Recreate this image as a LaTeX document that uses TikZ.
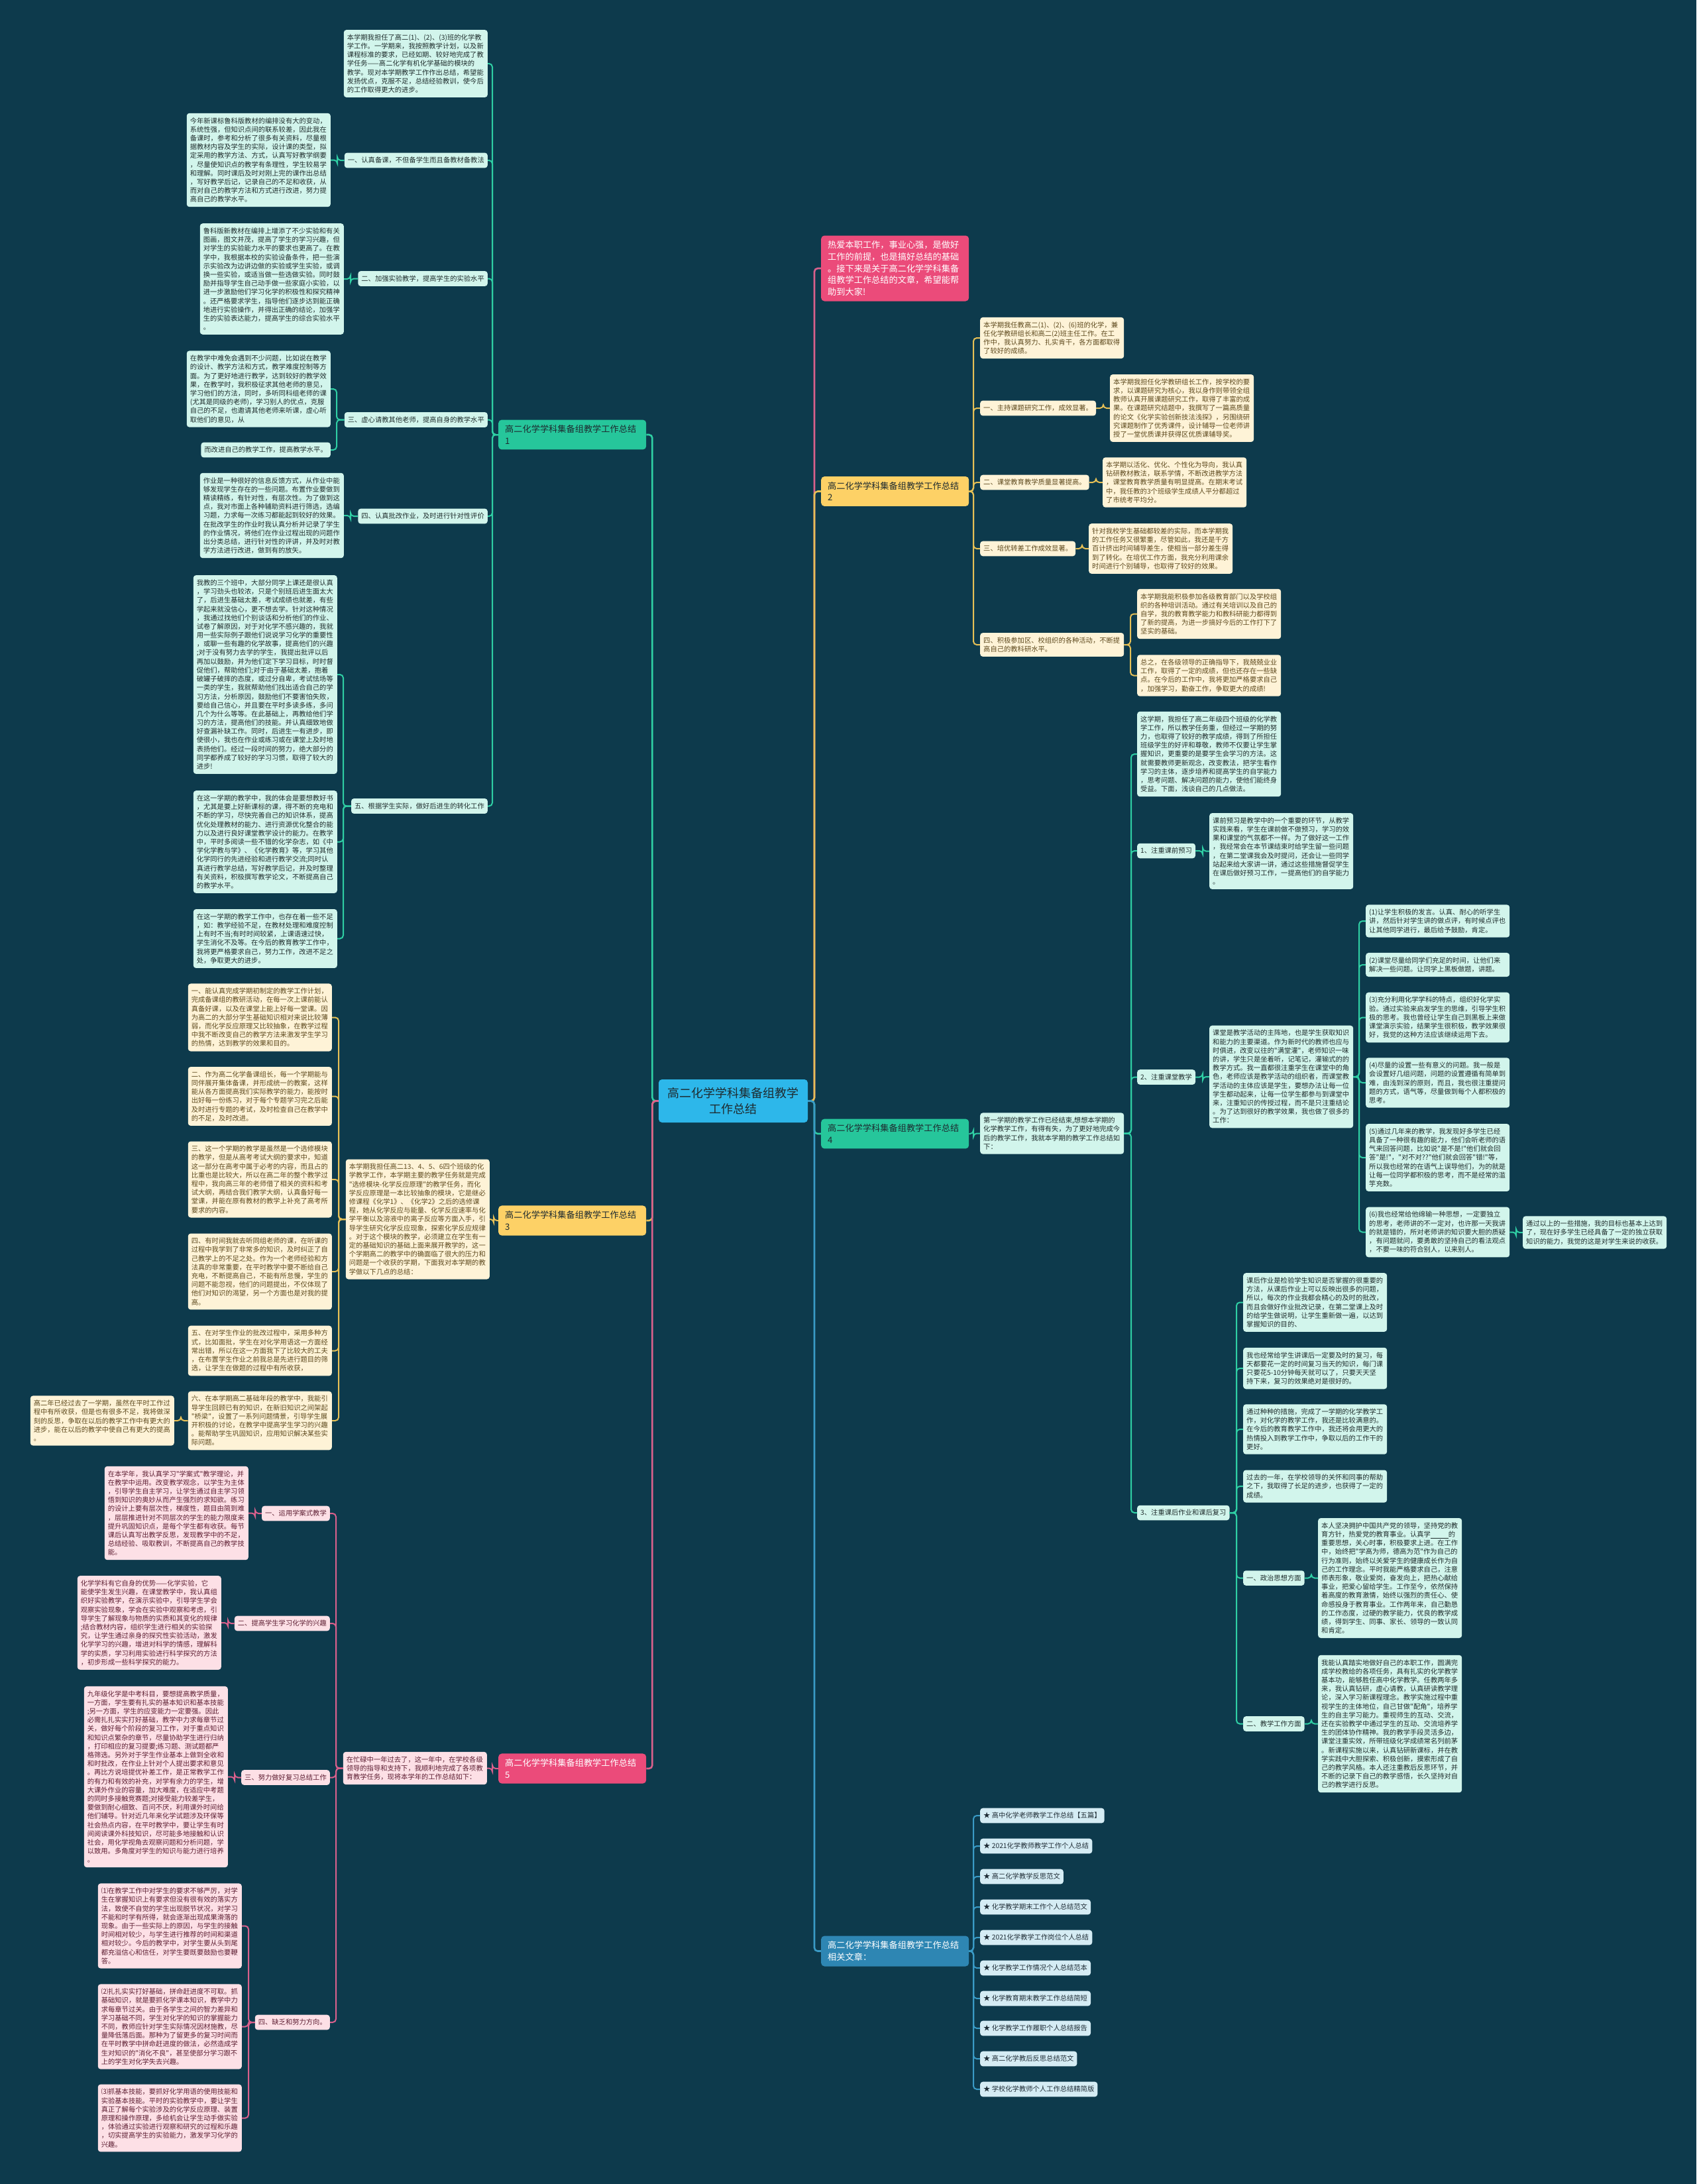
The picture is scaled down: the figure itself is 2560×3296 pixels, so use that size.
\documentclass[tikz,border=0pt]{standalone}
\usepackage{fontspec}
\newfontfamily\cjk{Noto Sans CJK SC}
\definecolor{bgc}{HTML}{0D3A4C}
\definecolor{gfill}{HTML}{26C69B}
\definecolor{gl}{HTML}{2FCFA4}
\definecolor{mintc}{HTML}{D2F5EC}
\definecolor{mtext}{HTML}{1F2D2D}
\definecolor{yfill}{HTML}{FDD166}
\definecolor{yl}{HTML}{E6C056}
\definecolor{creamc}{HTML}{FEF3D7}
\definecolor{ytext}{HTML}{5E4A1E}
\definecolor{pfill}{HTML}{EB4B7A}
\definecolor{pl}{HTML}{D9608C}
\definecolor{rosec}{HTML}{FDE0E6}
\definecolor{ptext}{HTML}{5E1F33}
\definecolor{centc}{HTML}{2DB7EA}
\definecolor{rfill}{HTML}{2E86B3}
\definecolor{bl}{HTML}{3A9BC6}
\definecolor{skyc}{HTML}{D5ECF4}
\definecolor{btext}{HTML}{1F2D36}
\definecolor{dtext}{HTML}{1E2B30}
\tikzset{
  leafbase/.style={rounded corners=4pt, inner xsep=5pt, inner ysep=6.5pt, align=left, font=\cjk\fontsize{10.3}{13.2}\selectfont},
  tw/.style={text width=207pt},
  gleaf/.style={leafbase, fill=mintc, text=mtext},
  yleaf/.style={leafbase, fill=creamc, text=ytext},
  pleaf/.style={leafbase, fill=rosec, text=ptext},
  bleaf/.style={leafbase, fill=skyc, text=btext},
  branchbox/.style={rounded corners=5pt, inner xsep=10pt, inner ysep=8pt, align=left, text width=203pt, font=\cjk\fontsize{13.2}{17.7}\selectfont, anchor=west},
  centerbox/.style={rounded corners=5pt, fill=centc, text=dtext, minimum width=225pt, minimum height=65pt, align=center, font=\cjk\fontsize{18}{24}\selectfont},
  conn/.style={line width=2pt, rounded corners=5pt},
  gline/.style={conn, draw=gl},
  yline/.style={conn, draw=yl},
  pline/.style={conn, draw=pl},
  bline/.style={conn, draw=bl},
  mainline/.style={line width=2.6pt}
}
\begin{document}
\begin{tikzpicture}[x=1pt,y=-1pt]
\fill[bgc] (0,0) rectangle (2560,3296);
\useasboundingbox (0,0) rectangle (2560,3296);

% ---------- centre and main branches ----------
\node[centerbox] (root) at (1106.5,1661.5) {高二化学学科集备组教学\\工作总结};
\node[branchbox, fill=gfill, text=dtext] (b1) at (752,656) {高二化学学科集备组教学工作总结\\1};
\node[branchbox, fill=yfill, text=dtext] (b3) at (752,1842) {高二化学学科集备组教学工作总结\\3};
\node[branchbox, fill=pfill, text=white] (b5) at (752,2669) {高二化学学科集备组教学工作总结\\5};
\node[branchbox, fill=pfill, text=white] (intro) at (1239,405) {热爱本职工作，事业心强，是做好\\工作的前提，也是搞好总结的基础\\。接下来是关于高二化学学科集备\\组教学工作总结的文章，希望能帮\\助到大家!};
\node[branchbox, fill=yfill, text=dtext] (b2) at (1239,741.5) {高二化学学科集备组教学工作总结\\2};
\node[branchbox, fill=gfill, text=dtext] (b4) at (1239,1711) {高二化学学科集备组教学工作总结\\4};
\node[branchbox, fill=rfill, text=white] (rel) at (1239,2944.5) {高二化学学科集备组教学工作总结\\相关文章：};

% ---------- branch 1 ----------
\node[gleaf, tw, anchor=east] (l1a) at (736,96) {本学期我担任了高二(1)、(2)、(3)班的化学教\\学工作。一学期来，我按照教学计划，以及新\\课程标准的要求，已经如期、较好地完成了教\\学任务——高二化学有机化学基础的模块的\\教学。现对本学期教学工作作出总结，希望能\\发扬优点，克服不足，总结经验教训，使今后\\的工作取得更大的进步。};
\node[gleaf, anchor=east] (s1) at (736,242) {一、认真备课，不但备学生而且备教材备教法};
\node[gleaf, tw, anchor=east] (s1l) at (499,241.5) {今年新课标鲁科版教材的编排没有大的变动，\\系统性强，但知识点间的联系较差，因此我在\\备课时，参考和分析了很多有关资料，尽量根\\据教材内容及学生的实际，设计课的类型，拟\\定采用的教学方法、方式，认真写好教学纲要\\，尽量使知识点的教学有条理性，学生较易学\\和理解。同时课后及时对刚上完的课作出总结\\，写好教学后记，记录自己的不足和收获，从\\而对自己的教学方法和方式进行改进，努力提\\高自己的教学水平。};
\node[gleaf, anchor=east] (s2) at (736,420.5) {二、加强实验教学，提高学生的实验水平};
\node[gleaf, tw, anchor=east] (s2l) at (519,421) {鲁科版新教材在编排上增添了不少实验和有关\\图画，图文并茂，提高了学生的学习兴趣，但\\对学生的实验能力水平的要求也更高了。在教\\学中，我根据本校的实验设备条件，把一些演\\示实验改为边讲边做的实验或学生实验，或调\\换一些实验，或适当做一些选做实验。同时鼓\\励并指导学生自己动手做一些家庭小实验，以\\进一步激励他们学习化学的积极性和探究精神\\。还严格要求学生，指导他们逐步达到能正确\\地进行实验操作，并得出正确的结论，加强学\\生的实验表达能力，提高学生的综合实验水平\\。};
\node[gleaf, anchor=east] (s3) at (736,633.5) {三、虚心请教其他老师，提高自身的教学水平};
\node[gleaf, tw, anchor=east] (s3a) at (499,587) {在教学中难免会遇到不少问题，比如说在教学\\的设计、教学方法和方式，教学难度控制等方\\面。为了更好地进行教学，达到较好的教学效\\果，在教学时，我积极征求其他老师的意见，\\学习他们的方法，同时，多听同科组老师的课\\(尤其是同级的老师)，学习别人的优点，克服\\自己的不足，也邀请其他老师来听课，虚心听\\取他们的意见，从};
\node[gleaf, anchor=east] (s3b) at (499,679) {而改进自己的教学工作，提高教学水平。};
\node[gleaf, anchor=east] (s4) at (736,779) {四、认真批改作业，及时进行针对性评价};
\node[gleaf, tw, anchor=east] (s4l) at (519,778) {作业是一种很好的信息反馈方式，从作业中能\\够发现学生存在的一些问题。布置作业要做到\\精读精练，有针对性，有层次性。为了做到这\\点，我对市面上各种辅助资料进行筛选，选编\\习题，力求每一次练习都能起到较好的效果。\\在批改学生的作业时我认真分析并记录了学生\\的作业情况，将他们在作业过程出现的问题作\\出分类总结，进行针对性的评讲，并及时对教\\学方法进行改进，做到有的放矢。};
\node[gleaf, anchor=east] (s5) at (736,1216.5) {五、根据学生实际，做好后进生的转化工作};
\node[gleaf, tw, anchor=east] (s5a) at (509,1018) {我教的三个班中，大部分同学上课还是很认真\\，学习劲头也较浓，只是个别班后进生面太大\\了，后进生基础太差，考试成绩也就差，有些\\学起来就没信心，更不想去学。针对这种情况\\，我通过找他们个别谈话和分析他们的作业、\\试卷了解原因，对于对化学不感兴趣的，我就\\用一些实际例子跟他们说说学习化学的重要性\\，或聊一些有趣的化学故事，提高他们的兴趣\\;对于没有努力去学的学生，我提出批评以后\\再加以鼓励，并为他们定下学习目标，时时督\\促他们，帮助他们;对于由于基础太差，抱着\\破罐子破摔的态度，或过分自卑，考试怯场等\\一类的学生，我就帮助他们找出适合自己的学\\习方法，分析原因，鼓励他们不要害怕失败，\\要给自己信心，并且要在平时多读多练，多问\\几个为什么等等。在此基础上，再教给他们学\\习的方法，提高他们的技能。并认真细致地做\\好查漏补缺工作。同时，后进生一有进步，即\\使很小，我也在作业或练习或在课堂上及时地\\表扬他们。经过一段时间的努力，绝大部分的\\同学都养成了较好的学习习惯，取得了较大的\\进步!};
\node[gleaf, tw, anchor=east] (s5b) at (509,1270.5) {在这一学期的教学中，我的体会是要想教好书\\，尤其是要上好新课标的课，得不断的充电和\\不断的学习，尽快完善自己的知识体系，提高\\优化处理教材的能力、进行资源优化整合的能\\力以及进行良好课堂教学设计的能力。在教学\\中，平时多阅读一些不错的化学杂志，如《中\\学化学教与学》、《化学教育》等，学习其他\\化学同行的先进经验和进行教学交流;同时认\\真进行教学总结，写好教学后记，并及时整理\\有关资料，积极撰写教学论文，不断提高自己\\的教学水平。};
\node[gleaf, tw, anchor=east] (s5c) at (509,1416.5) {在这一学期的教学工作中，也存在着一些不足\\，如：教学经验不足，在教材处理和难度控制\\上有时不当;有时时间较紧，上课语速过快，\\学生消化不及等。在今后的教育教学工作中，\\我将更严格要求自己，努力工作，改进不足之\\处，争取更大的进步。};

% ---------- branch 3 ----------
\node[yleaf, tw, anchor=east] (c3) at (739,1840) {本学期我担任高二13、4、5、6四个班级的化\\学教学工作，本学期主要的教学任务就是完成\\"选修模块-化学反应原理"的教学任务，而化\\学反应原理是一本比较抽象的模块，它是继必\\修课程《化学1》、《化学2》之后的选修课\\程，她从化学反应与能量、化学反应速率与化\\学平衡以及溶液中的离子反应等方面入手，引\\导学生研究化学反应现象，探索化学反应规律\\。对于这个模块的教学，必须建立在学生有一\\定的基础知识的基础上面来展开教学的，这一\\个学期高二的教学中的确面临了很大的压力和\\问题是一个收获的学期，下面我对本学期的教\\学做以下几点的总结：};
\node[yleaf, tw, anchor=east] (c3a) at (501,1535.5) {一、能认真完成学期初制定的教学工作计划，\\完成备课组的教研活动，在每一次上课前能认\\真备好课，以及在课堂上能上好每一堂课。因\\为高二的大部分学生基础知识相对来说比较薄\\弱，而化学反应原理又比较抽象，在教学过程\\中我不断改变自己的教学方法来激发学生学习\\的热情，达到教学的效果和目的。};
\node[yleaf, tw, anchor=east] (c3b) at (501,1654.5) {二、作为高二化学备课组长，每一个学期能与\\同伴展开集体备课，并形成统一的教案，这样\\能从各方面提高我们实际教学的能力，能按时\\出好每一份练习，对于每个专题学习完之后能\\及时进行专题的考试，及时检查自己在教学中\\的不足，及时改进。};
\node[yleaf, tw, anchor=east] (c3c) at (501,1780) {三、这一个学期的教学是虽然是一个选修模块\\的教学，但是从高考考试大纲的要求中，知道\\这一部分在高考中属于必考的内容，而且占的\\比重也是比较大，所以在高二年的整个教学过\\程中，我向高三年的老师借了相关的资料和考\\试大纲，再结合我们教学大纲，认真备好每一\\堂课，并能在原有教材的教学上补充了高考所\\要求的内容。};
\node[yleaf, tw, anchor=east] (c3d) at (501,1919) {四、有时间我就去听同组老师的课，在听课的\\过程中我学到了非常多的知识，及时纠正了自\\己教学上的不足之处。作为一个老师经验和方\\法真的非常重要，在平时教学中要不断给自己\\充电，不断提高自己，不能有所怠慢，学生的\\问题不能忽视，他们的问题提出，不仅体现了\\他们对知识的渴望，另一个方面也是对我的提\\高。};
\node[yleaf, tw, anchor=east] (c3e) at (501,2038.5) {五、在对学生作业的批改过程中，采用多种方\\式，比如面批，学生在对化学用语这一方面经\\常出错，所以在这一方面我下了比较大的工夫\\，在布置学生作业之前我总是先进行题目的筛\\选，让学生在做题的过程中有所收获，};
\node[yleaf, tw, anchor=east] (c3f) at (501,2144) {六、在本学期高二基础年段的教学中，我能引\\导学生回顾已有的知识，在新旧知识之间架起\\"桥梁"，设置了一系列问题情景，引导学生展\\开积极的讨论，在教学中提高学生学习的兴趣\\。能帮助学生巩固知识，应用知识解决某些实\\际问题。};
\node[yleaf, tw, anchor=east] (c3g) at (263,2144) {高二年已经过去了一学期，虽然在平时工作过\\程中有所收获，但是也有很多不足，我将做深\\刻的反思，争取在以后的教学工作中有更大的\\进步，能在以后的教学中使自己有更大的提高\\。};

% ---------- branch 5 ----------
\node[pleaf, tw, anchor=east] (c5) at (735,2668.5) {在忙碌中一年过去了，这一年中，在学校各级\\领导的指导和支持下，我顺利地完成了各项教\\育教学任务，现将本学年的工作总结如下：};
\node[pleaf, anchor=east] (t1) at (498,2284) {一、运用学案式教学};
\node[pleaf, anchor=east] (t2) at (498,2450) {二、提高学生学习化学的兴趣};
\node[pleaf, anchor=east] (t3) at (498,2682.5) {三、努力做好复习总结工作};
\node[pleaf, anchor=east] (t4) at (498,3052) {四、缺乏和努力方向。};
\node[pleaf, tw, anchor=east] (t1l) at (375,2283.5) {在本学年，我认真学习"学案式"教学理论，并\\在教学中运用。改变教学观念，以学生为主体\\，引导学生自主学习，让学生通过自主学习领\\悟到知识的奥妙从而产生强烈的求知欲。练习\\的设计上要有层次性，梯度性，题目由简到难\\，层层推进针对不同层次的学生的能力限度来\\提升巩固知识点，是每个学生都有收获。每节\\课后认真写出教学反思，发现教学中的不足，\\总结经验、吸取教训，不断提高自己的教学技\\能。};
\node[pleaf, tw, anchor=east] (t2l) at (334,2449) {化学学科有它自身的优势——化学实验，它\\能使学生发生兴趣，在课堂教学中，我认真组\\织好实验教学，在演示实验中，引导学生学会\\观察实验现象，学会在实验中观察和考虑，引\\导学生了解现象与物质的实质和其变化的规律\\;结合教材内容，组织学生进行相关的实验探\\究，让学生通过亲身的探究性实验活动，激发\\化学学习的兴趣，增进对科学的情感，理解科\\学的实质，学习利用实验进行科学探究的方法\\，初步形成一些科学探究的能力。};
\node[pleaf, tw, anchor=east] (t3l) at (344,2681.5) {九年级化学是中考科目，要想提高教学质量，\\一方面，学生要有扎实的基本知识和基本技能\\;另一方面，学生的应变能力一定要强。因此\\必需扎扎实实打好基础，教学中力求每章节过\\关，做好每个阶段的复习工作，对于重点知识\\和知识点繁杂的章节，尽量协助学生进行归纳\\，打印相应的复习提要;练习题、测试题都严\\格筛选。另外对于学生作业基本上做到全收和\\和时批改，在作业上针对个人提出要求和意见\\。再比方说培提优补差工作，是正常教学工作\\的有力和有效的补充，对学有余力的学生，增\\大课外作业的容量，加大难度，在适应中考题\\的同时多接触竞赛题;对接受能力较差学生，\\要做到耐心细致、百问不厌，利用课外时间给\\他们辅导。针对近几年来化学试题涉及环保等\\社会热点内容，在平时教学中，要让学生有时\\间阅读课外科技知识，尽可能多地接触和认识\\社会，用化学视角去观察问题和分析问题，学\\以致用。多角度对学生的知识与能力进行培养\\。};
\node[pleaf, tw, anchor=east] (t4a) at (365,2906.5) {⑴在教学工作中对学生的要求不够严厉，对学\\生在掌握知识上有要求但没有很有效的落实方\\法，致使不自觉的学生出现脱节状况，对学习\\不能和时学有所得，就会逐渐出现成果滑落的\\现象。由于一些实际上的原因，与学生的接触\\时间相对较少，与学生进行推荐的时间和渠道\\相对较少。今后的教学中，对学生要从头到尾\\都充溢信心和信任，对学生要既要鼓励也要鞭\\答。};
\node[pleaf, tw, anchor=east] (t4b) at (365,3058.5) {⑵扎扎实实打好基础，拼命赶进度不可取。抓\\基础知识，就是要抓化学课本知识，教学中力\\求每章节过关。由于各学生之间的智力差异和\\学习基础不同，学生对化学的知识的掌握能力\\不同，教师应针对学生实际情况因材施教，尽\\量降低落后面。那种为了留更多的复习时间而\\在平时教学中拼命赶进度的做法，必然造成学\\生对知识的"消化不良"，甚至使部分学习跟不\\上的学生对化学失去兴趣。};
\node[pleaf, tw, anchor=east] (t4c) at (365,3196.5) {⑶抓基本技能，要抓好化学用语的使用技能和\\实验基本技能。平时的实验教学中，要让学生\\真正了解每个实验涉及的化学反应原理、装置\\原理和操作原理，多给机会让学生动手做实验\\，体验通过实验进行观察和研究的过程和乐趣\\，切实提高学生的实验能力，激发学习化学的\\兴趣。};

% ---------- branch 2 ----------
\node[yleaf, tw, anchor=west] (c20) at (1479,510) {本学期我任教高二(1)、(2)、(6)班的化学，兼\\任化学教研组长和高二(2)班主任工作。在工\\作中，我认真努力、扎实肯干，各方面都取得\\了较好的成绩。};
\node[yleaf, anchor=west] (u1) at (1479,616) {一、主持课题研究工作，成效显著。};
\node[yleaf, tw, anchor=west] (u1l) at (1675,616) {本学期我担任化学教研组长工作，按学校的要\\求，以课题研究为核心，我以身作则带领全组\\教师认真开展课题研究工作，取得了丰富的成\\果。在课题研究结题中，我撰写了一篇高质量\\的论文《化学实验创新技法浅探》，另围绕研\\究课题制作了优秀课件，设计辅导一位老师讲\\授了一堂优质课并获得区优质课辅导奖。};
\node[yleaf, anchor=west] (u2) at (1479,728) {二、课堂教育教学质量显著提高。};
\node[yleaf, tw, anchor=west] (u2l) at (1664,728) {本学期以活化、优化、个性化为导向，我认真\\钻研教材教法，联系学情，不断改进教学方法\\，课堂教育教学质量有明显提高。在期末考试\\中，我任教的3个班级学生成绩人平分都超过\\了市统考平均分。};
\node[yleaf, anchor=west] (u3) at (1479,828) {三、培优转差工作成效显著。};
\node[yleaf, tw, anchor=west] (u3l) at (1643,828) {针对我校学生基础都较差的实际，而本学期我\\的工作任务又很繁重，尽管如此，我还是千方\\百计挤出时间辅导差生，使相当一部分差生得\\到了转化。在培优工作方面，我充分利用课余\\时间进行个别辅导，也取得了较好的效果。};
\node[yleaf, tw, anchor=west] (u4) at (1479,973) {四、积极参加区、校组织的各种活动，不断提\\高自己的教科研水平。};
\node[yleaf, tw, anchor=west] (u4a) at (1716,926.5) {本学期我能积极参加各级教育部门以及学校组\\织的各种培训活动。通过有关培训以及自己的\\自学，我的教育教学能力和教科研能力都得到\\了新的提高，为进一步搞好今后的工作打下了\\坚实的基础。};
\node[yleaf, tw, anchor=west] (u4b) at (1716,1019.5) {总之，在各级领导的正确指导下，我兢兢业业\\工作，取得了一定的成绩，但也还存在一些缺\\点。在今后的工作中，我将更加严格要求自己\\，加强学习，勤奋工作，争取更大的成绩!};

% ---------- branch 4 ----------
\node[gleaf, tw, anchor=west] (c4) at (1479,1710.5) {第一学期的教学工作已经结束,想想本学期的\\化学教学工作，有得有失，为了更好地完成今\\后的教学工作，我就本学期的教学工作总结如\\下：};
\node[gleaf, tw, anchor=west] (v1) at (1716,1138) {这学期，我担任了高二年级四个班级的化学教\\学工作，所以教学任务重，但经过一学期的努\\力，也取得了较好的教学成绩，得到了所担任\\班级学生的好评和尊敬，教师不仅要让学生掌\\握知识，更重要的是要学生会学习的方法。这\\就需要教师更新观念，改变教法，把学生看作\\学习的主体，逐步培养和提高学生的自学能力\\，思考问题、解决问题的能力，使他们能终身\\受益。下面，浅谈自己的几点做法。};
\node[gleaf, anchor=west] (v2) at (1716,1284) {1、注重课前预习};
\node[gleaf, tw, anchor=west] (v2l) at (1825,1284.5) {课前预习是教学中的一个重要的环节，从教学\\实践来看，学生在课前做不做预习，学习的效\\果和课堂的气氛都不一样。为了做好这一工作\\，我经常会在本节课结束时给学生留一些问题\\，在第二堂课我会及时提问，还会让一些同学\\站起来给大家讲一讲，通过这些措施督促学生\\在课后做好预习工作，一提高他们的自学能力\\。};
\node[gleaf, anchor=west] (v3) at (1716,1625.5) {2、注重课堂教学};
\node[gleaf, tw, anchor=west] (v3l) at (1825,1625) {课堂是教学活动的主阵地，也是学生获取知识\\和能力的主要渠道。作为新时代的教师也应与\\时俱进，改变以往的"满堂灌"，老师知识一味\\的讲，学生只是坐着听，记笔记，灌输式的的\\教学方式。我一直都很注重学生在课堂中的角\\色，老师应该是教学活动的组织者，而课堂教\\学活动的主体应该是学生，要想办法让每一位\\学生都动起来，让每一位学生都参与到课堂中\\来，注重知识的传授过程，而不是只注重结论\\。为了达到很好的教学效果，我也做了很多的\\工作：};
\node[gleaf, tw, anchor=west] (w1) at (2061,1390) {(1)让学生积极的发言。认真、耐心的听学生\\讲，然后针对学生讲的做点评，有时候点评也\\让其他同学进行，最后给予鼓励，肯定。};
\node[gleaf, tw, anchor=west] (w2) at (2061,1456) {(2)课堂尽量给同学们充足的时间，让他们来\\解决一些问题。让同学上黑板做题，讲题。};
\node[gleaf, tw, anchor=west] (w3) at (2061,1535.5) {(3)充分利用化学学科的特点，组织好化学实\\验。通过实验来启发学生的思维，引导学生积\\极的思考。我也曾经让学生自己到黑板上来做\\课堂演示实验，结果学生很积极，教学效果很\\好，我觉的这种方法应该继续运用下去。};
\node[gleaf, tw, anchor=west] (w4) at (2061,1634) {(4)尽量的设置一些有意义的问题。我一般是\\会设置好几组问题，问题的设置遵循有简单到\\难，由浅到深的原则，而且，我也很注重提问\\题的方式，语气等，尽量做到每个人都积极的\\思考。};
\node[gleaf, tw, anchor=west] (w5) at (2061,1747) {(5)通过几年来的教学，我发现好多学生已经\\具备了一种很有趣的能力，他们会听老师的语\\气来回答问题，比如说"是不是!"他们就会回\\答"是!"，"对不对??"他们就会回答"错!"等，\\所以我也经常的在语气上误导他们，为的就是\\让每一位同学都积极的思考，而不是经常的滥\\竽充数。};
\node[gleaf, tw, anchor=west] (w6) at (2061,1859.5) {(6)我也经常给他绵输一种思想，一定要独立\\的思考，老师讲的不一定对，也许那一天我讲\\的就是错的，所对老师讲的知识要大胆的质疑\\，有问题就问，要勇敢的坚持自己的看法观点\\，不要一味的符合别人，以来别人。};
\node[gleaf, tw, anchor=west] (w6c) at (2298,1860) {通过以上的一些措施，我的目标也基本上达到\\了，现在好多学生已经具备了一定的独立获取\\知识的能力，我觉的这是对学生来说的收获。};
\node[gleaf, anchor=west] (v4) at (1716,2283) {3、注重课后作业和课后复习};
\node[gleaf, tw, anchor=west] (x1) at (1876,1965.5) {课后作业是检验学生知识是否掌握的很重要的\\方法，从课后作业上可以反映出很多的问题，\\所以，每次的作业我都会精心的及时的批改，\\而且会做好作业批改记录，在第二堂课上及时\\的给学生做说明，让学生重新做一遍，以达到\\掌握知识的目的、};
\node[gleaf, tw, anchor=west] (x2) at (1876,2065) {我也经常给学生讲课后一定要及时的复习，每\\天都要花一定的时间复习当天的知识，每门课\\只要花5-10分钟每天就可以了，只要天天坚\\持下来，复习的效果绝对是很好的。};
\node[gleaf, tw, anchor=west] (x3) at (1876,2157) {通过种种的措施，完成了一学期的化学教学工\\作，对化学的教学工作，我还是比较满意的。\\在今后的教育教学工作中，我还将会用更大的\\热情投入到教学工作中，争取以后的工作干的\\更好。};
\node[gleaf, tw, anchor=west] (x4) at (1876,2243) {过去的一年，在学校领导的关怀和同事的帮助\\之下，我取得了长足的进步，也获得了一定的\\成绩。};
\node[gleaf, anchor=west] (x5) at (1876,2381.5) {一、政治思想方面};
\node[gleaf, tw, anchor=west] (x5l) at (1989,2381.5) {本人坚决拥护中国共产党的领导，坚持党的教\\育方针，热爱党的教育事业。认真学\underline{\hspace{2.6em}}的\\重要思想，关心时事，积极要求上进。在工作\\中，始终把"学高为师，德高为范"作为自己的\\行为准则，始终以关爱学生的健康成长作为自\\己的工作理念。平时我能严格要求自己，注意\\师表形象，敬业爱岗，奋发向上，把热心献给\\事业，把爱心留给学生。工作至今，依然保持\\着高度的教育激情，始终以强烈的责任心、使\\命感投身于教育事业。工作两年来，自己勤恳\\的工作态度，过硬的教学能力，优良的教学成\\绩，得到学生、同事、家长、领导的一致认同\\和肯定。};
\node[gleaf, anchor=west] (x6) at (1876,2601.5) {二、教学工作方面};
\node[gleaf, tw, anchor=west] (x6l) at (1989,2601.5) {我能认真踏实地做好自己的本职工作，圆满完\\成学校教给的各项任务，具有扎实的化学教学\\基本功，能够胜任高中化学教学。任教两年多\\来，我认真钻研，虚心请教，认真研读教学理\\论，深入学习新课程理念。教学实施过程中重\\视学生的主体地位，自己甘做"配角"，培养学\\生的自主学习能力。重视师生的互动、交流，\\还在实验教学中通过学生的互动、交流培养学\\生的团体协作精神。我的教学手段灵活多边，\\课堂注重实效，所带班级化学成绩常名列前茅\\。新课程实施以来，认真钻研新课标，并在教\\学实践中大胆探索、积极创新，摸索形成了自\\己的教学风格。本人还注重教后反思环节，并\\不断的记录下自己的教学感悟，长久坚持对自\\己的教学进行反思。};

% ---------- related ----------
\node[bleaf, anchor=west] (r1) at (1479,2740) {★ 高中化学老师教学工作总结【五篇】};
\node[bleaf, anchor=west] (r2) at (1479,2786) {★ 2021化学教师教学工作个人总结};
\node[bleaf, anchor=west] (r3) at (1479,2832) {★ 高二化学教学反思范文};
\node[bleaf, anchor=west] (r4) at (1479,2878) {★ 化学教学期末工作个人总结范文};
\node[bleaf, anchor=west] (r5) at (1479,2924) {★ 2021化学教学工作岗位个人总结};
\node[bleaf, anchor=west] (r6) at (1479,2970) {★ 化学教学工作情况个人总结范本};
\node[bleaf, anchor=west] (r7) at (1479,3016) {★ 化学教育期末教学工作总结简短};
\node[bleaf, anchor=west] (r8) at (1479,3061) {★ 化学教学工作履职个人总结报告};
\node[bleaf, anchor=west] (r9) at (1479,3107) {★ 高二化学教后反思总结范文};
\node[bleaf, anchor=west] (r10) at (1479,3153) {★ 学校化学教师个人工作总结精简版};

% ---------- connectors ----------
\draw[gline, mainline] (b1.east) -- ++(9,0) |- (root.west);
\draw[yline, mainline] (b3.east) -- ++(9,0) |- (root.west);
\draw[pline, mainline] (b5.east) -- ++(9,0) |- (root.west);
\draw[pline, mainline] (intro.west) -- ++(-10,0) |- (root.east);
\draw[yline, mainline] (b2.west) -- ++(-10,0) |- (root.east);
\draw[gline, mainline] (b4.west) -- ++(-10,0) |- (root.east);
\draw[bline, mainline] (rel.west) -- ++(-10,0) |- (root.east);
% branch 1
\foreach \n in {l1a,s1,s2,s3,s4,s5} \draw[gline] (\n.east) -- ++(7,0) |- (b1.west);
\draw[gline] (s1l.east) -- ++(10,0) |- (s1.west);
\draw[gline] (s2l.east) -- ++(10,0) |- (s2.west);
\draw[gline] (s3a.east) -- ++(9,0) |- (s3.west);
\draw[gline] (s3b.east) -- ++(9,0) |- (s3.west);
\draw[gline] (s4l.east) -- ++(10,0) |- (s4.west);
\foreach \n in {s5a,s5b,s5c} \draw[gline] (\n.east) -- ++(9,0) |- (s5.west);
% branch 3
\draw[yline] (c3.east) -- ++(6,0) |- (b3.west);
\foreach \n in {c3a,c3b,c3c,c3d,c3e,c3f} \draw[yline] (\n.east) -- ++(10,0) |- (c3.west);
\draw[yline] (c3g.east) -- ++(10,0) |- (c3f.west);
% branch 5
\draw[pline] (c5.east) -- ++(8,0) |- (b5.west);
\foreach \n in {t1,t2,t3,t4} \draw[pline] (\n.east) -- ++(9,0) |- (c5.west);
\draw[pline] (t1l.east) -- ++(10,0) |- (t1.west);
\draw[pline] (t2l.east) -- ++(10,0) |- (t2.west);
\draw[pline] (t3l.east) -- ++(10,0) |- (t3.west);
\foreach \n in {t4a,t4b,t4c} \draw[pline] (\n.east) -- ++(10,0) |- (t4.west);
% branch 2
\foreach \n in {c20,u1,u2,u3,u4} \draw[yline] (\n.west) -- ++(-10,0) |- (b2.east);
\draw[yline] (u1l.west) -- ++(-10,0) |- (u1.east);
\draw[yline] (u2l.west) -- ++(-10,0) |- (u2.east);
\draw[yline] (u3l.west) -- ++(-10,0) |- (u3.east);
\draw[yline] (u4a.west) -- ++(-10,0) |- (u4.east);
\draw[yline] (u4b.west) -- ++(-10,0) |- (u4.east);
% branch 4
\draw[gline] (c4.west) -- ++(-10,0) |- (b4.east);
\foreach \n in {v1,v2,v3,v4} \draw[gline] (\n.west) -- ++(-9,0) |- (c4.east);
\draw[gline] (v2l.west) -- ++(-10,0) |- (v2.east);
\draw[gline] (v3l.west) -- ++(-10,0) |- (v3.east);
\foreach \n in {w1,w2,w3,w4,w5,w6} \draw[gline] (\n.west) -- ++(-10,0) |- (v3l.east);
\draw[gline] (w6c.west) -- ++(-10,0) |- (w6.east);
\foreach \n in {x1,x2,x3,x4,x5,x6} \draw[gline] (\n.west) -- ++(-10,0) |- (v4.east);
\draw[gline] (x5l.west) -- ++(-10,0) |- (x5.east);
\draw[gline] (x6l.west) -- ++(-10,0) |- (x6.east);
% related
\foreach \n in {r1,r2,r3,r4,r5,r6,r7,r8,r9,r10} \draw[bline] (\n.west) -- ++(-10,0) |- (rel.east);
\end{tikzpicture}
\end{document}
